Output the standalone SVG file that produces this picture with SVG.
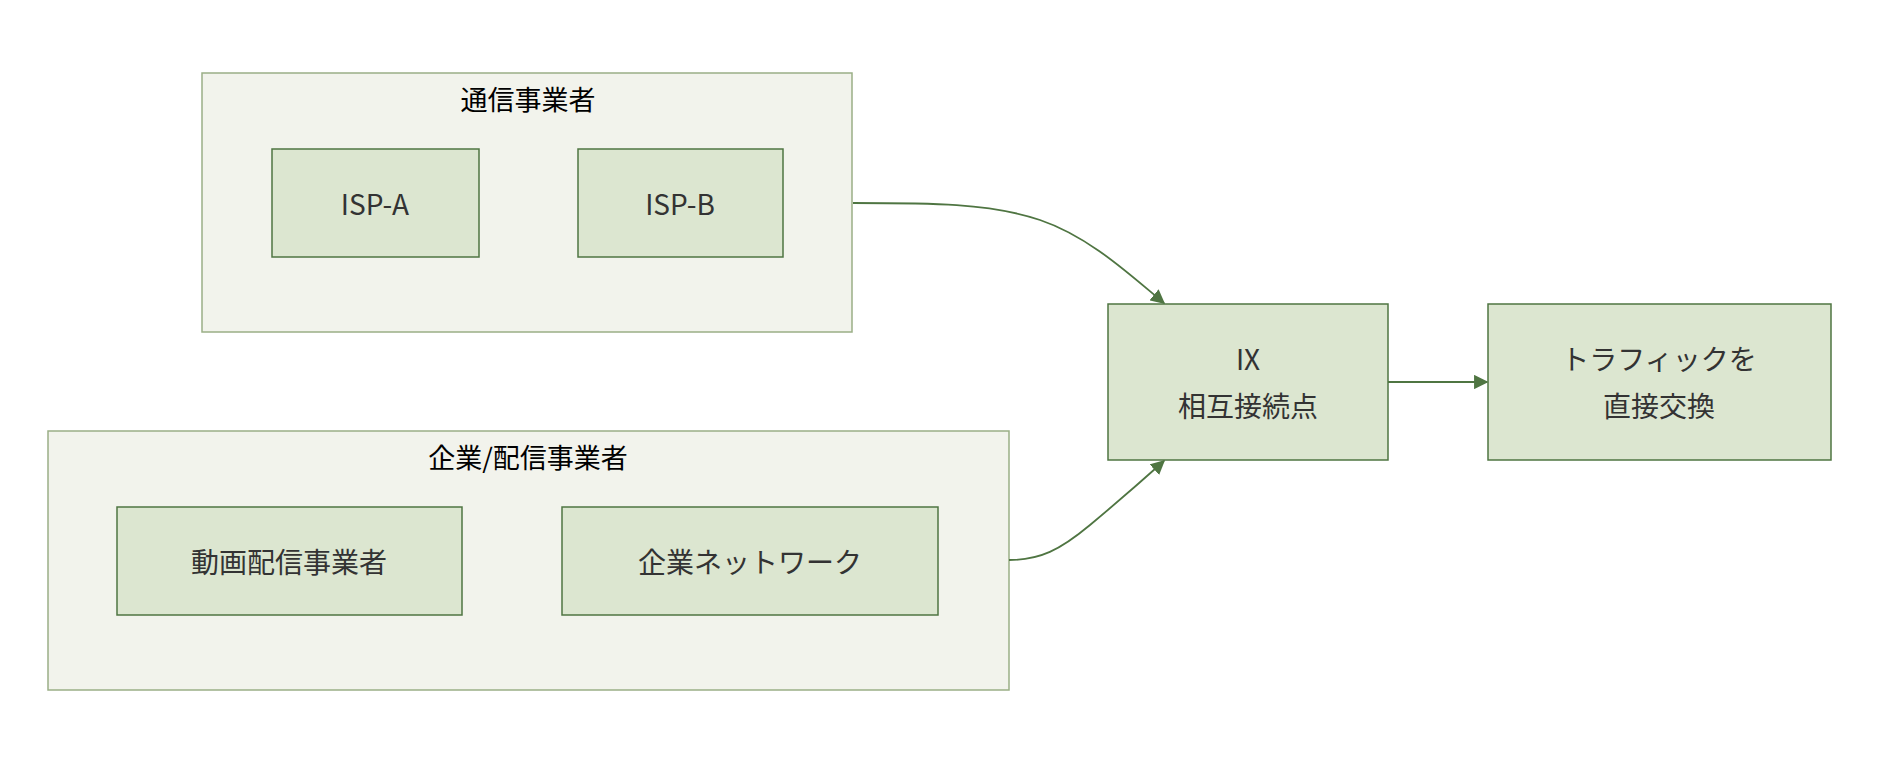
<svg xmlns="http://www.w3.org/2000/svg" width="1878" height="768" viewBox="0 0 1878 768">
<style>
.cl{fill:#f2f3ec;stroke:#9aaf86;stroke-width:1.5}
.nd{fill:#dce6d0;stroke:#4f7542;stroke-width:1.5}
text{font-family:"Noto Sans CJK JP","Noto Sans",sans-serif;text-anchor:middle;dominant-baseline:central}
.t{font-size:28px;fill:#333}
.c{font-size:27px;fill:#000}
.e{fill:none;stroke:#4f7542;stroke-width:1.8}
</style>
<defs><marker id="a" viewBox="0 0 10 10" refX="9" refY="5" markerWidth="8" markerHeight="8" orient="auto"><path d="M0,0L10,5L0,10z" fill="#4f7542"/></marker></defs>
<rect width="1878" height="768" fill="#fff"/>
<g id="cluster1"><rect class="cl" x="202" y="73" width="650" height="259"/><text class="c" x="528" y="98">通信事業者</text></g>
<g id="cluster2"><rect class="cl" x="48" y="431" width="961" height="259"/><text class="c" x="528" y="456">企業/配信事業者</text></g>
<g id="ispa"><rect class="nd" x="272" y="149" width="207" height="108"/><text class="t" x="375" y="203">ISP-A</text></g>
<g id="ispb"><rect class="nd" x="578" y="149" width="205" height="108"/><text class="t" x="680" y="203">ISP-B</text></g>
<g id="video"><rect class="nd" x="117" y="507" width="345" height="108"/><text class="t" x="289" y="561">動画配信事業者</text></g>
<g id="corp"><rect class="nd" x="562" y="507" width="376" height="108"/><text class="t" x="750" y="561">企業ネットワーク</text></g>
<g id="ix"><rect class="nd" x="1108" y="304" width="280" height="156"/><text class="t" x="1248" y="358">IX</text><text class="t" x="1248" y="405">相互接続点</text></g>
<g id="traffic"><rect class="nd" x="1488" y="304" width="343" height="156"/><text class="t" x="1659" y="358">トラフィックを</text><text class="t" x="1659" y="405">直接交換</text></g>
<g id="edges">
<path class="e" marker-end="url(#a)" d="M853,203 C930,203 990,203 1040,220 C1090,237 1130,275 1164,303"/>
<path class="e" marker-end="url(#a)" d="M1009,560 C1040,560 1060,550 1090,525 C1120,500 1145,478 1164,461"/>
<path class="e" marker-end="url(#a)" d="M1388,382 L1487,382"/>
</g>
</svg>
